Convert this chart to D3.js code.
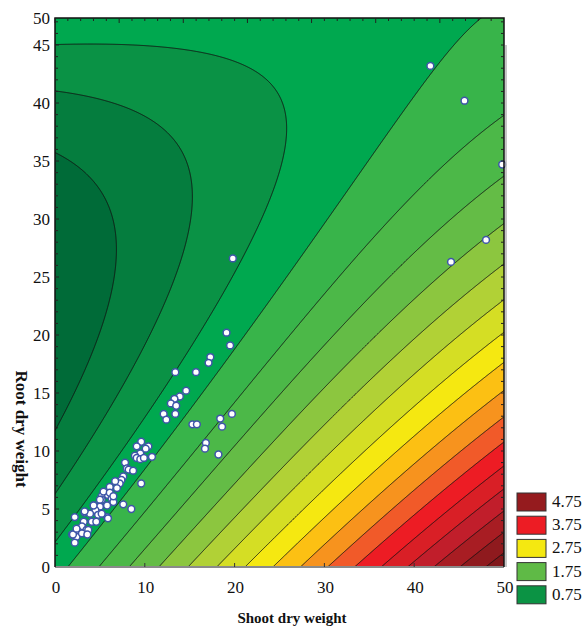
<!DOCTYPE html>
<html>
<head>
<meta charset="utf-8">
<script src="https://cdn.jsdelivr.net/npm/d3@7"></script>
<style>
  body { margin: 0; background: #fff; }
  svg { display: block; }
  text { font-family: "Liberation Serif", "Times New Roman", serif; fill: #111; }
</style>
</head>
<body>
<svg id="chart" width="583" height="629"></svg>
<script>
// scatter points (shoot, root)
const shootWeight = [
  19.1, 19.5, 17.3, 17.1, 13.4, 15.7, 14.6, 13.9, 13.3, 12.9, 13.5, 12.1, 13.4, 12.4, 15.3, 15.8, 18.4, 19.7, 18.6, 16.8, 16.7, 18.2,
  9.6, 9.1, 10.4, 10.1, 9.5, 8.9, 9.1, 9.5, 9.9, 10.8, 7.8, 8.0, 8.2, 8.7, 7.6, 7.4, 7.2, 6.7, 6.9, 6.1, 9.6, 5.6, 5.2, 5.9, 5.2,
  6.3, 6.5, 5.8, 4.3, 5.0, 4.5, 3.3, 3.9, 4.8, 5.8, 7.6, 8.5, 2.2, 3.2, 4.1, 3.0, 3.5, 2.7, 1.9, 2.4, 2.2, 5.2, 5.9,
  5.4, 6.1, 5.0, 6.5, 4.3, 3.3, 3.7, 2.0, 3.0, 4.6, 2.4, 3.6,
  19.8, 41.8, 45.6, 49.8, 48.0, 44.1
];
const rootWeight = [
  20.2, 19.1, 18.1, 17.6, 16.8, 16.8, 15.2, 14.7, 14.5, 14.1, 13.9, 13.2, 13.2, 12.7, 12.3, 12.3, 12.8, 13.2, 12.1, 10.7, 10.2, 9.7,
  10.8, 10.4, 10.4, 10.2, 9.8, 9.6, 9.4, 9.3, 9.4, 9.5, 9.0, 8.5, 8.4, 8.3, 7.8, 7.5, 7.2, 7.4, 6.8, 6.9, 7.2, 6.4, 6.1, 6.2, 5.8,
  5.9, 5.6, 5.3, 5.3, 5.2, 4.9, 4.7, 4.6, 4.5, 4.3, 5.4, 5.0, 4.3, 3.9, 3.9, 3.5, 3.2, 3.0, 2.8, 2.6, 2.1, 4.6, 4.2,
  6.5, 6.4, 5.8, 6.1, 5.3, 4.8, 3.2, 2.8, 2.9, 3.9, 3.3, 2.8,
  26.6, 43.2, 40.2, 34.7, 28.2, 26.3
];

// where the contour lines cross: [shoot, root, level]
const surfaceReadings = [
  [0, 1.6, 1.0], [0, 6.5, 0.75], [0, 12.1, 0.5], [0, 23.8, 0.32], [0, 35.7, 0.5], [0, 40.9, 0.75], [0, 45.2, 1.0], [0, 47.3, 1.1],
  [1.0, 0, 1.25], [4.6, 0, 1.5], [8.4, 0, 1.75], [12.2, 0, 2.0], [15.4, 0, 2.25], [18.1, 0, 2.5], [20.9, 0, 2.75], [23.9, 0, 3.0],
  [27.0, 0, 3.25], [29.9, 0, 3.5], [33.0, 0, 3.75], [36.0, 0, 4.0], [39.0, 0, 4.25], [42.0, 0, 4.5], [45.0, 0, 4.75], [48.1, 0, 5.0],
  [50, 38.3, 1.5], [50, 33.0, 1.75], [50, 29.5, 2.0], [50, 26.3, 2.25], [50, 23.3, 2.5], [50, 20.6, 2.75], [50, 18.1, 3.0],
  [50, 15.7, 3.25], [50, 13.3, 3.5], [50, 11.0, 3.75], [50, 8.8, 4.0], [50, 6.6, 4.25], [50, 4.5, 4.5], [50, 2.6, 4.75], [50, 0.9, 5.0],
  [45.4, 47.3, 1.25], [25, 47.3, 1.15],
  [8.7, 44.6, 1.0], [15.4, 43.9, 1.0], [19.8, 43.1, 1.0], [22.8, 41.7, 1.0], [24.7, 40.2, 1.0], [25.3, 38.5, 1.0],
  [25.4, 32.5, 1.0], [23.1, 28.6, 1.0], [18.4, 23.0, 1.0], [12.0, 15.7, 1.0], [6.0, 8.5, 1.0],
  [8.0, 6.4, 1.25], [14.0, 12.4, 1.25], [20.0, 18.6, 1.25], [24.3, 23.0, 1.25], [30.0, 29.3, 1.25], [36.2, 35.7, 1.25],
  [39.9, 40.0, 1.25], [42.9, 44.6, 1.25],
  [15.0, 9.4, 1.5], [26.0, 20.0, 1.5], [33.0, 26.0, 1.5], [40.6, 31.6, 1.5],
  [6.0, 14.4, 0.75], [12.5, 23.0, 0.75], [14.5, 27.0, 0.75], [15.2, 30.0, 0.75], [15.0, 32.8, 0.75], [14.3, 35.1, 0.75],
  [12.0, 37.1, 0.75], [8.7, 38.8, 0.75], [5.0, 40.3, 0.75],
  [3.3, 15.3, 0.5], [5.5, 20.0, 0.5], [6.5, 24.5, 0.5], [6.4, 28.0, 0.5], [5.0, 31.6, 0.5], [2.4, 34.5, 0.5],
  [44.1, 26.3, 2.0], [48.0, 28.2, 2.0], [28.0, 13.0, 2.0], [36.0, 10.7, 2.75], [43.6, 4.8, 4.0]
];

const contourLevels = [0.25, 0.5, 0.75, 1, 1.25, 1.5, 1.75, 2, 2.25, 2.5, 2.75, 3, 3.25, 3.5, 3.75, 4, 4.25, 4.5, 4.75, 5];
const bandColors = [
  "#006b38", "#057d3e", "#0a9245", "#00a84f", "#38b44a", "#4cb848", "#64bc46", "#8cc63f", "#b1d136", "#d5de24",
  "#f5e811", "#fcc013", "#f7931e", "#f15a29", "#ed1c24", "#d91f26", "#c11e2b", "#a81d23", "#8f1a1e", "#80171a"
];
const lowestColor = "#005f31";

const legendLabels = ["4.75", "3.75", "2.75", "1.75", "0.75"];
const legendColors = ["#951b1e", "#ed1c24", "#f4e811", "#5fba46", "#0b9344"];

const xTickValues = [0, 10, 20, 30, 40, 50];
const yTickValues = [0, 5, 10, 15, 20, 25, 30, 35, 40, 45];
const yTopLabel = "50";

const rootMax = 47.33;   // the frame stops a little under 50

const svg = d3.select("#chart");
const plotLeft = 55, plotRight = 504, plotTop = 18, plotBottom = 567;

const x = d3.scaleLinear().domain([0, 50]).range([plotLeft, plotRight]);
const y = d3.scaleLinear().domain([0, rootMax]).range([plotBottom, plotTop]);

// least squares cubic surface through the readings
const degree = 3;
function terms(u, v) {
  const s = u / 50, t = v / 50, out = [];
  for (let i = 0; i <= degree; i++)
    for (let j = 0; j <= degree - i; j++) out.push(Math.pow(s, i) * Math.pow(t, j));
  return out;
}
function fitSurface(readings) {
  const n = terms(0, 0).length;
  const M = Array.from({ length: n }, () => new Array(n + 1).fill(0));
  readings.forEach(([u, v, f]) => {
    const r = terms(u, v);
    for (let i = 0; i < n; i++) {
      for (let j = 0; j < n; j++) M[i][j] += r[i] * r[j];
      M[i][n] += r[i] * f;
    }
  });
  for (let i = 0; i < n; i++) M[i][i] += 1e-7;
  for (let c = 0; c < n; c++) {
    let p = c;
    for (let r = c + 1; r < n; r++) if (Math.abs(M[r][c]) > Math.abs(M[p][c])) p = r;
    [M[c], M[p]] = [M[p], M[c]];
    for (let r = 0; r < n; r++) {
      if (r === c) continue;
      const k = M[r][c] / M[c][c];
      for (let j = c; j <= n; j++) M[r][j] -= k * M[c][j];
    }
  }
  return M.map((row, i) => row[n] / row[i]);
}
const coef = fitSurface(surfaceReadings);
const surface = (u, v) => {
  const t = terms(u, v);
  let s = 0;
  for (let i = 0; i < t.length; i++) s += t[i] * coef[i];
  return s;
};

// grid a couple of pixels wider than the frame so edges stay out of the clip
const pad = 2;
const nx = plotRight - plotLeft + 2 * pad, ny = plotBottom - plotTop + 2 * pad;
const grid = new Array(nx * ny);
for (let j = 0; j < ny; j++) {
  const v = y.invert(plotTop - pad + j + 0.5);
  for (let i = 0; i < nx; i++) grid[j * nx + i] = surface(x.invert(plotLeft - pad + i + 0.5), v);
}
const contours = d3.contours().size([nx, ny]).thresholds(contourLevels)(grid);
const path = d3.geoPath();

svg.append("clipPath").attr("id", "plotClip")
  .append("rect").attr("x", plotLeft).attr("y", plotTop)
  .attr("width", plotRight - plotLeft).attr("height", plotBottom - plotTop);

const plot = svg.append("g").attr("clip-path", "url(#plotClip)");
plot.append("rect").attr("x", plotLeft).attr("y", plotTop)
  .attr("width", plotRight - plotLeft).attr("height", plotBottom - plotTop)
  .attr("fill", lowestColor);

const shifted = plot.append("g").attr("transform", `translate(${plotLeft - pad},${plotTop - pad})`);
shifted.selectAll("path.band")
  .data(contours)
  .join("path")
  .attr("class", "band")
  .attr("d", path)
  .attr("fill", (d, i) => bandColors[i]);

shifted.selectAll("path.line")
  .data(contours)
  .join("path")
  .attr("class", "line")
  .attr("d", path)
  .attr("fill", "none")
  .attr("stroke", "#111")
  .attr("stroke-width", 0.9);

// scatter
const points = shootWeight.map((s, i) => ({ shoot: s, root: rootWeight[i] }));
svg.append("g").selectAll("circle")
  .data(points)
  .join("circle")
  .attr("cx", d => x(d.shoot))
  .attr("cy", d => y(d.root))
  .attr("r", 3.4)
  .attr("fill", "#fff")
  .attr("stroke", "#3e55a8")
  .attr("stroke-width", 1.5);

// frame
svg.append("line").attr("x1", plotRight + 2).attr("x2", plotRight + 2).attr("y1", y(45)).attr("y2", plotBottom)
  .attr("stroke", "#b5b5b5").attr("stroke-width", 1.5);
svg.append("line").attr("x1", plotLeft).attr("x2", plotRight).attr("y1", plotBottom).attr("y2", plotBottom)
  .attr("stroke", "#8a8a8a").attr("stroke-width", 2);
svg.append("path")
  .attr("d", `M${plotLeft},${plotBottom}V${plotTop}H${plotRight}V${plotBottom}`)
  .attr("fill", "none").attr("stroke", "#111").attr("stroke-width", 1.5);

// ticks
const yMinor = d3.range(1, 48);
svg.append("g").selectAll("line")
  .data(yMinor)
  .join("line")
  .attr("x1", plotLeft).attr("x2", d => plotLeft + (d % 5 === 0 ? 4 : 3))
  .attr("y1", d => y(d)).attr("y2", d => y(d))
  .attr("stroke", "#222");
svg.append("g").selectAll("line")
  .data(yMinor)
  .join("line")
  .attr("x1", plotRight).attr("x2", plotRight - 3)
  .attr("y1", d => y(d)).attr("y2", d => y(d))
  .attr("stroke", "#222");
const topScale = d3.scaleLinear().domain([0, 7]).range([plotLeft, plotRight]);
svg.append("g").selectAll("line")
  .data(d3.range(0, 35))
  .join("line")
  .attr("x1", d => topScale(d / 5)).attr("x2", d => topScale(d / 5))
  .attr("y1", plotTop).attr("y2", d => plotTop + (d % 5 === 0 ? 5 : 3))
  .attr("stroke", "#222");
svg.append("g").selectAll("line")
  .data(xTickValues.slice(1, -1))
  .join("line")
  .attr("x1", d => x(d)).attr("x2", d => x(d))
  .attr("y1", plotBottom).attr("y2", plotBottom - 4)
  .attr("stroke", "#333");

// tick labels
svg.append("g").selectAll("text")
  .data(xTickValues)
  .join("text")
  .attr("x", d => x(d) + 1)
  .attr("y", 593)
  .attr("text-anchor", "middle")
  .attr("font-size", 17)
  .text(d => d);
svg.append("g").selectAll("text")
  .data(yTickValues)
  .join("text")
  .attr("x", 50)
  .attr("y", d => y(d) + 6)
  .attr("text-anchor", "end")
  .attr("font-size", 17)
  .text(d => d);
svg.append("text")
  .attr("x", 50).attr("y", plotTop + 6)
  .attr("text-anchor", "end").attr("font-size", 17)
  .text(yTopLabel);

// axis titles
svg.append("text")
  .attr("x", 292).attr("y", 623)
  .attr("text-anchor", "middle")
  .attr("font-size", 15).attr("font-weight", "bold")
  .text("Shoot dry weight");
svg.append("text")
  .attr("transform", "translate(16,429) rotate(90)")
  .attr("text-anchor", "middle")
  .attr("font-size", 17).attr("font-weight", "bold")
  .text("Root dry weight");

// legend
const legend = svg.append("g");
legend.selectAll("rect")
  .data(legendLabels)
  .join("rect")
  .attr("x", 517).attr("y", (d, i) => 493 + i * 23.2)
  .attr("width", 29).attr("height", 18)
  .attr("fill", (d, i) => legendColors[i])
  .attr("stroke", "#333").attr("stroke-width", 1);
legend.selectAll("text")
  .data(legendLabels)
  .join("text")
  .attr("x", 552).attr("y", (d, i) => 493 + i * 23.2 + 14)
  .attr("font-size", 17)
  .text(d => d);
</script>
</body>
</html>
